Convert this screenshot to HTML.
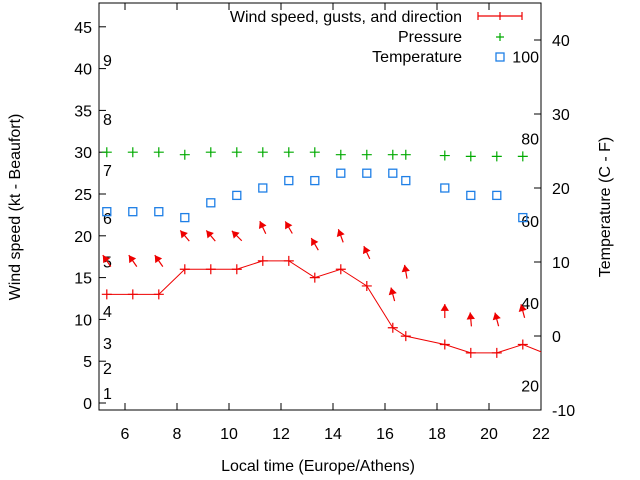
<!DOCTYPE html>
<html><head><meta charset="utf-8"><style>body{margin:0;background:#fff}svg{display:block;font-family:"Liberation Sans",sans-serif}</style></head>
<body>
<svg id="c" width="640" height="480"></svg>
<script>
const times=[5.3,6.3,7.3,8.3,9.3,10.3,11.3,12.3,13.3,14.3,15.3,16.3,16.8,18.3,19.3,20.3,21.3,22.5];
const wind=[13,13,13,16,16,16,17,17,15,16,14,9,8,7,6,6,7,5.5];
const gust=[17,17,17,20,20,20,21,21,19,20,18,13,15.7,11,10,10,11];
const dirs=[-35,-35,-35,-40,-40,-45,-25,-30,-30,-20,-25,-15,-10,0,-5,-15,-15];
const pressure=[30,30,30,29.7,30,30,30,30,30,29.7,29.7,29.7,29.7,29.6,29.5,29.5,29.5];
const temp=[16.8,16.8,16.8,16,18,19,20,21,21,22,22,22,21,20,19,19,16];
const leftTicks=[0,5,10,15,20,25,30,35,40,45];
const rightTicks=[-10,0,10,20,30,40];
const xTicks=[6,8,10,12,14,16,18,20,22];
const beaufort=["1","2","3","4","5","6","7","8","9"];
const beaufortPos=[1.2,4.2,7.2,11,16.9,22.1,27.9,34,41];
const fahr=[20,40,60,80,100];
const L=99,R=541,T=3,B=410;
const X=t=>L+(t-5)*26;
const YL=v=>403-v*8.36;
const YR=v=>410-(v+10)*7.4;
const NS="http://www.w3.org/2000/svg",svg=document.getElementById('c');
function el(tag,a,p){const e=document.createElementNS(NS,tag);for(const k in a)e.setAttribute(k,a[k]);(p||svg).appendChild(e);return e;}
function txt(s,x,y,anchor,extra){const e=el('text',Object.assign({x:x,y:y,'font-size':16,'text-anchor':anchor||'start',fill:'#000'},extra||{}));e.textContent=s;return e;}
const clip=el('clipPath',{id:'cp'});el('rect',{x:L,y:T,width:R-L,height:B-T},clip);
const frame=el('rect',{x:L,y:T,width:R-L,height:B-T,fill:'none',stroke:'#000'});

leftTicks.forEach(v=>{const y=YL(v);el('line',{x1:L,y1:y,x2:L+7,y2:y,stroke:'#000'});
 const t=txt(String(v),92,y+6,'end');});
rightTicks.forEach(v=>{const y=YR(v);el('line',{x1:R-7,y1:y,x2:R,y2:y,stroke:'#000'});
 const t=txt(String(v),552,y+6,'start');});
xTicks.forEach(v=>{const x=X(v);el('line',{x1:x,y1:B,x2:x,y2:B-7,stroke:'#000'});el('line',{x1:x,y1:T,x2:x,y2:T+7,stroke:'#000'});
 const t=txt(String(v),x,439,'middle');});
beaufort.forEach((s,i)=>{const t=txt(s,103,YL(beaufortPos[i])+6,'start');});
fahr.forEach(f=>{const t=txt(String(f),539,YR((f-32)*5/9)+6,'end');});
const g=el('g',{'clip-path':'url(#cp)'});

const pl=el('polyline',{points:times.map((t,i)=>X(t)+','+YL(wind[i])).join(' '),fill:'none',stroke:'#e00',"stroke-width":1},g);

function plus(x,y,c,p,n,s){s=s||5;const e=el('path',{d:`M${x-s},${y}h${2*s}M${x},${y-s}v${2*s}`,stroke:c,'stroke-width':1.2,fill:'none'},p);}
times.forEach((t,i)=>{if(t<22)plus(X(t),YL(wind[i]),'#e00',g,'wind-point');});
pressure.forEach((v,i)=>plus(X(times[i]),YL(v),'#0a0',g,'pressure-point'));
temp.forEach((v,i)=>{const r=el('rect',{x:X(times[i])-4,y:YR(v)-4,width:8,height:8,fill:'none',stroke:'#1e7fe6','stroke-width':1.3},g);
 });
gust.forEach((v,i)=>{const cx=X(times[i]),cy=YL(v),a=dirs[i]*Math.PI/180,h=7;
 const dx=Math.sin(a)*h,dy=-Math.cos(a)*h;const hx=cx+dx,hy=cy+dy;
 const a1=a+Math.PI-0.55,a2=a+Math.PI+0.55;
 const gg=el('g',{},g);
 el('line',{x1:cx-dx,y1:cy-dy,x2:hx,y2:hy,stroke:'#e00','stroke-width':1.2},gg);
 el('path',{d:`M${hx},${hy}L${hx+Math.sin(a1)*8},${hy-Math.cos(a1)*8}L${hx+Math.sin(a2)*8},${hy-Math.cos(a2)*8}Z`,fill:'#e00'},gg);});
const lg=el('g',{});
[['Wind speed, gusts, and direction',22],['Pressure',42],['Temperature',62]].forEach(a=>{const t=txt(a[0],462,a[1],'end');lg.appendChild(t);});
el('path',{d:'M478,16H522M478,12v8M522,12v8M500,12v8',stroke:'#e00','stroke-width':1.2,fill:'none'},lg);
plus(500,37,'#0a0',lg,'legend-pressure-symbol',4);
el('rect',{x:496,y:53,width:8,height:8,fill:'none',stroke:'#1e7fe6','stroke-width':1.3},lg);
const xt=txt('Local time (Europe/Athens)',318,471,'middle');
const yl=txt('Wind speed (kt - Beaufort)',0,0,'middle',{transform:'translate(20,207) rotate(-90)'});
const yr=txt('Temperature (C - F)',0,0,'middle',{transform:'translate(610,207) rotate(-90)'});
</script>
</body></html>
